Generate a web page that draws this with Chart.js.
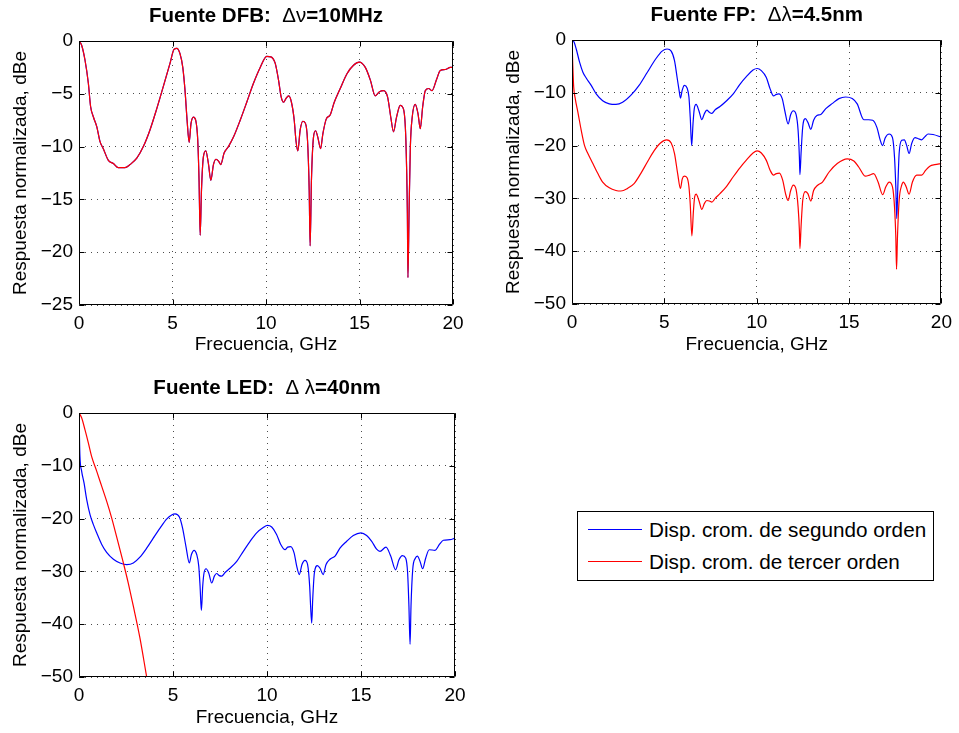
<!DOCTYPE html>
<html lang="es">
<head>
    <meta charset="UTF-8">
    <title>Respuesta normalizada</title>
    <script src="https://cdn.jsdelivr.net/npm/chart.js"></script>
    <style>
        body {
            margin: 0;
            background: #fff;
            font-family: 'Liberation Sans', Arial, sans-serif;
        }
        .plot {
            position: absolute;
        }
        #legend {
            position: absolute;
            left: 577px;
            top: 511px;
            width: 355px;
            height: 68px;
            border: 1px solid #000;
            background: #fff;
        }
        .row {
            position: absolute;
            left: 0;
            height: 24px;
            font-size: 20.7px;
            line-height: 24px;
            white-space: nowrap;
        }
        .swatch {
            position: absolute;
            left: 10px;
            top: 11px;
            width: 54px;
            height: 0;
            border-top: 1px solid;
        }
        .row span.txt {
            position: absolute;
            left: 71px;
            top: 0;
        }
    </style>
</head>
<body>

<div class="plot" style="left:0;top:0"><canvas id="cDfb" width="480" height="365"></canvas></div>
<div class="plot" style="left:480px;top:0"><canvas id="cFp" width="479" height="365"></canvas></div>
<div class="plot" style="left:0;top:365px"><canvas id="cLed" width="480" height="368"></canvas></div>

<div id="legend">
    <div class="row" style="top:6px"><div class="swatch" style="border-color:#0000ff"></div><span class="txt" id="lab0"></span></div>
    <div class="row" style="top:38px"><div class="swatch" style="border-color:#ff0000"></div><span class="txt" id="lab1"></span></div>
</div>

<script>
    // --- datos (GHz, dBe) ---
    const seriesLabels = ['Disp. crom. de segundo orden', 'Disp. crom. de tercer orden'];

    // Fuente DFB (las dos curvas coinciden)
    const fDfb = [0, 0.14, 0.32, 0.5, 0.62, 0.77, 0.95, 1.12, 1.3, 1.57,
        1.84, 2.1, 2.46, 2.73, 3.09, 3.44, 3.8, 4.16, 4.51, 4.87,
        5.08, 5.23, 5.4, 5.55, 5.67, 5.78, 5.89, 5.99, 6.12, 6.24,
        6.35, 6.42, 6.48, 6.55, 6.65, 6.78, 6.92, 7.05, 7.19, 7.33,
        7.47, 7.58, 7.76, 7.99, 8.26, 8.62, 8.97, 9.33, 9.69, 10.04,
        10.26, 10.49, 10.67, 10.81, 10.94, 11.08, 11.22, 11.36, 11.51, 11.6,
        11.7, 11.83, 11.97, 12.11, 12.22, 12.31, 12.36, 12.43, 12.54, 12.65,
        12.77, 12.92, 13.04, 13.22, 13.43, 13.65, 13.97, 14.33, 14.68, 14.99,
        15.31, 15.58, 15.84, 16.07, 16.29, 16.5, 16.68, 16.82, 16.97, 17.18,
        17.36, 17.48, 17.56, 17.59, 17.65, 17.72, 17.82, 17.98, 18.13, 18.25,
        18.38, 18.52, 18.7, 18.88, 19.11, 19.32, 19.59, 19.86, 20];
    const dbDfb = [0, -0.4, -1.8, -4.0, -6.2, -7.2, -8.1, -9.5, -10.2, -11.3,
        -11.6, -12.0, -12.0, -11.7, -11.1, -10.0, -8.4, -6.4, -4.3, -2.1,
        -0.8, -0.7, -1.2, -2.5, -4.7, -7.5, -9.6, -7.8, -7.2, -7.5,
        -9.4, -13.2, -18.4, -14.1, -11.0, -10.4, -11.6, -13.2, -11.7, -11.2,
        -11.4, -11.7, -10.6, -10.0, -9.1, -7.5, -5.8, -4.0, -2.5, -1.45,
        -1.5, -2.1, -3.7, -5.3, -5.8, -5.4, -5.2, -5.8, -7.5, -9.4,
        -10.4, -8.4, -7.6, -7.8, -9.4, -14.1, -19.4, -13.2, -9.1, -8.5,
        -9.1, -10.2, -8.8, -7.4, -7.0, -5.8, -4.5, -3.1, -2.3, -2.0,
        -2.5, -3.7, -5.2, -4.8, -4.7, -5.3, -7.3, -8.6, -7.3, -6.1,
        -6.5, -9.4, -16.3, -22.4, -16.3, -10.0, -7.2, -6.0, -6.9, -8.3,
        -6.2, -4.7, -4.5, -4.7, -3.7, -2.8, -2.7, -2.5, -2.5];

    // Fuente FP, segundo orden
    const fFp2 = [0, 0.11, 0.23, 0.41, 0.59, 0.77, 1.04, 1.31, 1.66, 2.02,
        2.38, 2.74, 3.18, 3.63, 4.08, 4.53, 4.88, 5.15, 5.37, 5.55,
        5.69, 5.8, 5.87, 5.96, 6.08, 6.23, 6.33, 6.4, 6.48, 6.55,
        6.62, 6.72, 6.87, 7.03, 7.16, 7.3, 7.44, 7.57, 7.75, 8.01,
        8.37, 8.73, 9.09, 9.45, 9.8, 10.02, 10.25, 10.52, 10.73, 10.91,
        11.06, 11.2, 11.38, 11.52, 11.7, 11.84, 11.98, 12.13, 12.24, 12.31,
        12.34, 12.4, 12.49, 12.63, 12.77, 12.93, 13.08, 13.26, 13.47, 13.74,
        14.1, 14.45, 14.81, 15.17, 15.44, 15.8, 16.06, 16.28, 16.51, 16.69,
        16.81, 16.96, 17.17, 17.35, 17.46, 17.53, 17.58, 17.64, 17.71, 17.85,
        17.99, 18.12, 18.25, 18.39, 18.57, 18.75, 18.93, 19.11, 19.28, 19.55,
        20];
    const dbFp2 = [0, -0.4, -1.7, -4.2, -6.1, -7.2, -8.6, -10.2, -11.5, -12.1,
        -12.2, -11.8, -10.5, -8.6, -6.1, -3.6, -2.1, -1.7, -2.1, -3.9,
        -7.1, -9.6, -11.0, -9.6, -8.6, -9.1, -10.8, -14.6, -20.0, -15.9,
        -13.0, -12.2, -13.4, -15.1, -14.0, -13.3, -13.7, -13.9, -13.2, -12.6,
        -11.5, -10.2, -8.4, -6.9, -5.7, -5.4, -5.8, -7.1, -9.3, -10.6,
        -10.3, -10.2, -11.1, -13.4, -15.9, -14.1, -13.4, -14.1, -17.1, -22.2,
        -25.5, -21.5, -16.5, -14.9, -15.6, -16.9, -15.2, -14.3, -14.1, -13.0,
        -12.0, -11.1, -10.8, -11.1, -12.1, -15.1, -15.1, -15.2, -16.6, -19.0,
        -20.0, -18.5, -17.8, -18.5, -22.2, -27.8, -33.8, -27.8, -21.5, -19.0,
        -18.9, -20.0, -21.5, -19.6, -18.5, -18.7, -18.9, -18.3, -17.8, -17.9,
        -18.4];

    // Fuente FP, tercer orden
    const fFp3 = [0, 0.04, 0.09, 0.18, 0.32, 0.5, 0.68, 0.86, 1.13, 1.4,
        1.66, 2.02, 2.38, 2.65, 3.01, 3.36, 3.72, 4.08, 4.44, 4.79,
        5.12, 5.37, 5.55, 5.72, 5.87, 5.97, 6.08, 6.23, 6.33, 6.4,
        6.49, 6.57, 6.64, 6.72, 6.87, 7.03, 7.16, 7.3, 7.44, 7.57,
        7.75, 8.01, 8.37, 8.73, 9.09, 9.45, 9.8, 10.02, 10.25, 10.52,
        10.73, 10.91, 11.06, 11.23, 11.41, 11.56, 11.7, 11.84, 11.98, 12.13,
        12.24, 12.31, 12.34, 12.4, 12.49, 12.63, 12.77, 12.93, 13.08, 13.3,
        13.56, 13.92, 14.36, 14.9, 15.26, 15.53, 15.89, 16.1, 16.33, 16.57,
        16.82, 16.99, 17.17, 17.35, 17.46, 17.53, 17.57, 17.62, 17.71, 17.85,
        17.94, 18.09, 18.25, 18.43, 18.66, 18.93, 19.14, 19.37, 19.64, 20];
    const dbFp3 = [0, -4.5, -8.8, -11.2, -13.7, -17.1, -20.0, -21.5, -23.4, -25.3,
        -26.9, -28.0, -28.5, -28.6, -28.1, -27.2, -25.3, -23.1, -21.0, -19.5,
        -18.9, -19.5, -21.5, -25.3, -28.1, -26.3, -25.8, -26.1, -27.8, -31.0,
        -37.1, -32.6, -29.7, -29.2, -30.4, -32.1, -31.0, -30.4, -30.5, -30.7,
        -30.0, -29.1, -27.7, -25.9, -24.2, -22.7, -21.4, -21.0, -21.4, -22.8,
        -24.7, -25.6, -25.3, -25.2, -26.6, -29.1, -30.4, -28.5, -27.5, -28.3,
        -31.6, -36.0, -39.5, -35.4, -30.4, -28.7, -29.1, -30.5, -28.5, -27.5,
        -26.9, -25.0, -23.4, -22.5, -22.9, -24.1, -25.8, -25.6, -25.3, -26.9,
        -29.3, -27.8, -26.9, -27.8, -31.6, -37.3, -43.4, -37.3, -30.4, -27.5,
        -26.9, -27.8, -29.2, -26.9, -25.6, -25.6, -24.7, -23.9, -23.6, -23.4];

    // Fuente LED, segundo orden
    const fLed2 = [0, 0.02, 0.05, 0.14, 0.27, 0.41, 0.59, 0.76, 0.94, 1.21,
        1.47, 1.83, 2.18, 2.54, 2.89, 3.24, 3.6, 3.95, 4.31, 4.66,
        4.93, 5.11, 5.34, 5.51, 5.69, 5.87, 5.98, 6.12, 6.26, 6.37,
        6.44, 6.51, 6.58, 6.65, 6.76, 6.9, 7.06, 7.2, 7.32, 7.46,
        7.59, 7.77, 8.03, 8.39, 8.74, 9.1, 9.45, 9.8, 10.02, 10.25,
        10.51, 10.73, 10.96, 11.1, 11.26, 11.44, 11.58, 11.72, 11.86, 12.02,
        12.16, 12.27, 12.32, 12.38, 12.43, 12.52, 12.68, 12.82, 12.99, 13.14,
        13.35, 13.62, 13.88, 14.24, 14.59, 15.0, 15.3, 15.57, 15.83, 16.01,
        16.33, 16.58, 16.84, 17.02, 17.2, 17.38, 17.48, 17.55, 17.61, 17.66,
        17.75, 17.89, 18.0, 18.14, 18.28, 18.44, 18.63, 18.94, 19.17, 19.38,
        19.73, 20];
    const dbLed2 = [0, -3.8, -8.2, -11.0, -13.3, -16.4, -19.3, -21.1, -22.7, -24.9,
        -26.4, -27.7, -28.4, -28.7, -28.4, -27.3, -25.6, -23.7, -21.8, -20.1,
        -19.3, -19.1, -19.7, -21.8, -25.3, -28.4, -26.8, -26.0, -26.8, -29.0,
        -32.8, -37.4, -32.8, -30.3, -29.5, -30.3, -32.2, -30.9, -30.4, -30.8,
        -30.9, -30.2, -29.4, -28.1, -26.2, -24.3, -22.7, -21.7, -21.3, -21.6,
        -23.0, -24.9, -25.9, -25.4, -25.3, -26.5, -29.0, -30.6, -28.7, -27.9,
        -28.7, -32.8, -36.6, -39.8, -35.4, -30.3, -28.9, -29.4, -30.6, -28.7,
        -27.7, -27.1, -25.6, -24.3, -23.2, -22.7, -23.2, -24.3, -25.8, -26.2,
        -25.4, -27.1, -29.7, -27.8, -27.0, -27.5, -30.3, -36.6, -43.8, -36.6,
        -29.7, -27.5, -27.1, -28.1, -29.5, -27.5, -25.9, -26.0, -24.9, -24.1,
        -24.0, -23.7];

    // Fuente LED, tercer orden
    const fLed3 = [0, 0.14, 0.32, 0.5, 0.67, 0.94, 1.21, 1.47, 1.74, 2.0,
        2.36, 2.62, 2.89, 3.24, 3.6];
    const dbLed3 = [0, -0.9, -3.2, -5.7, -8.2, -11.0, -13.9, -16.7, -19.9, -23.4,
        -28.4, -32.2, -36.6, -42.6, -50.0];

    const xTicks = { min: 0, max: 20, step: 5 };

    const FONT = "'Liberation Sans', Arial, sans-serif";
    const BLUE = '#0000ff';
    const RED = '#ff0000';

    function pts(f, v) {
        return f.map((x, i) => ({ x: x, y: v[i] }));
    }

    function fmt(v) {
        return String(v).replace('-', '\u2212');
    }

    // caja de ejes estilo matlab, con marcas hacia dentro
    const axesBox = {
        id: 'axesBox',
        afterDraw(chart) {
            const { ctx, chartArea: a, scales: { x, y } } = chart;
            const L = Math.round(a.left) + 0.5, R = Math.round(a.right) - 0.5;
            const T = Math.round(a.top) + 0.5, B = Math.round(a.bottom) - 0.5;
            ctx.save();
            ctx.strokeStyle = '#000';
            ctx.lineWidth = 1;
            ctx.beginPath();
            ctx.rect(L, T, R - L, B - T);
            x.ticks.forEach(t => {
                const px = Math.round(x.getPixelForValue(t.value)) + 0.5;
                ctx.moveTo(px, B); ctx.lineTo(px, B - 5);
                ctx.moveTo(px, T); ctx.lineTo(px, T + 5);
            });
            y.ticks.forEach(t => {
                const py = Math.round(y.getPixelForValue(t.value)) + 0.5;
                ctx.moveTo(L, py); ctx.lineTo(L + 5, py);
                ctx.moveTo(R, py); ctx.lineTo(R - 5, py);
            });
            ctx.stroke();

            // titulo, simbolos griegos sin negrita
            const parts = chart.options.plugins.axesBox.title;
            ctx.fillStyle = '#000';
            ctx.textBaseline = 'middle';
            let total = 0;
            parts.forEach(p => {
                ctx.font = (p.bold ? 'bold ' : '') + '20.5px ' + FONT;
                p.w = ctx.measureText(p.t).width;
                total += p.w;
            });
            let cx = (a.left + a.right) / 2 - total / 2;
            const cy = a.top - 25;
            parts.forEach(p => {
                ctx.font = (p.bold ? 'bold ' : '') + '20.5px ' + FONT;
                ctx.textAlign = 'left';
                ctx.fillText(p.t, cx, cy);
                cx += p.w;
            });
            ctx.restore();
        }
    };

    function makeChart(id, datasets, p) {
        const tickFont = { family: FONT, size: 19 };
        const labelFont = { family: FONT, size: 19 };
        return new Chart(document.getElementById(id), {
            type: 'line',
            data: { datasets: datasets },
            options: {
                responsive: false,
                animation: false,
                events: [],
                layout: { padding: { left: 0, right: p.padRight, top: p.padTop, bottom: 0 } },
                elements: {
                    point: { radius: 0 },
                    line: { borderWidth: 1.2, cubicInterpolationMode: 'monotone' }
                },
                plugins: {
                    legend: { display: false },
                    tooltip: { enabled: false },
                    axesBox: { title: p.title }
                },
                scales: {
                    x: {
                        type: 'linear',
                        min: xTicks.min,
                        max: xTicks.max,
                        ticks: { stepSize: xTicks.step, padding: 7, color: '#000', font: tickFont, maxRotation: 0, callback: fmt },
                        grid: { color: 'rgba(0,0,0,0.7)', lineWidth: 1, drawTicks: false },
                        border: { display: false, dash: [1, 5] },
                        title: { display: true, text: 'Frecuencia, GHz', color: '#000', font: labelFont, padding: { top: 0, bottom: p.xTitlePad } },
                        afterFit(s) { s.height = p.xAxisH; }
                    },
                    y: {
                        type: 'linear',
                        min: p.yMin,
                        max: 0,
                        ticks: { stepSize: p.yStep, padding: 6, color: '#000', font: tickFont, callback: fmt },
                        grid: { color: 'rgba(0,0,0,0.7)', lineWidth: 1, drawTicks: false },
                        border: { display: false, dash: [1, 5] },
                        title: { display: true, text: 'Respuesta normalizada, dBe', color: '#000', font: labelFont, padding: { top: p.yTitlePad, bottom: 0 } },
                        afterFit(s) { s.width = p.yAxisW; }
                    }
                }
            },
            plugins: [axesBox]
        });
    }

    function ds(label, f, v, color, order) {
        return { label: label, data: pts(f, v), borderColor: color, backgroundColor: color, fill: false, order: order };
    }

    makeChart('cDfb', [
        ds(seriesLabels[0], fDfb, dbDfb, BLUE, 2),
        ds(seriesLabels[1], fDfb, dbDfb, RED, 1)
    ], {
        yMin: -25, yStep: 5, padRight: 27, padTop: 41, xAxisH: 60, yAxisW: 79, xTitlePad: 9, yTitlePad: 9,
        title: [{ t: 'Fuente DFB:  ', bold: true }, { t: 'Δν', bold: false }, { t: '=10MHz', bold: true }]
    });

    makeChart('cFp', [
        ds(seriesLabels[0], fFp2, dbFp2, BLUE, 2),
        ds(seriesLabels[1], fFp3, dbFp3, RED, 1)
    ], {
        yMin: -50, yStep: 10, padRight: 14, padTop: 40, xAxisH: 61, yAxisW: 92, xTitlePad: 9, yTitlePad: 22,
        title: [{ t: 'Fuente FP:  ', bold: true }, { t: 'Δλ', bold: false }, { t: '=4.5nm', bold: true }]
    });

    makeChart('cLed', [
        ds(seriesLabels[0], fLed2, dbLed2, BLUE, 2),
        ds(seriesLabels[1], fLed3, dbLed3, RED, 1)
    ], {
        yMin: -50, yStep: 10, padRight: 25, padTop: 48, xAxisH: 56, yAxisW: 79, xTitlePad: 4, yTitlePad: 9,
        title: [{ t: 'Fuente LED:  ', bold: true }, { t: 'Δ λ', bold: false }, { t: '=40nm', bold: true }]
    });

    document.getElementById('lab0').textContent = seriesLabels[0];
    document.getElementById('lab1').textContent = seriesLabels[1];
</script>

</body>
</html>
